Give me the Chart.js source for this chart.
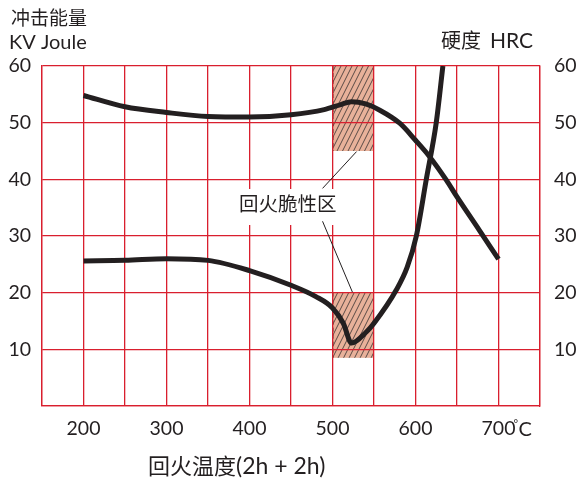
<!DOCTYPE html>
<html>
<head>
<meta charset="utf-8">
<script src="https://cdn.jsdelivr.net/npm/chart.js@4.4.0/dist/chart.umd.min.js"></script>
<style>
  html, body { margin: 0; padding: 0; background: #fff; }
  #c { display: block; }
</style>
</head>
<body>
<canvas id="c" width="579" height="479"></canvas>
<script>
/* Tempering curve: impact energy (KV) and hardness (HRC) vs tempering temperature */

const impactTemp = [200, 250, 300, 350, 400, 450, 480, 500, 513, 523, 541, 550, 577, 590, 601, 613, 625, 633];
const impactKV   = [25.6, 25.7, 26.0, 25.7, 23.9, 21.3, 19.3, 17.3, 14.6, 11.1, 13.1, 14.6, 20.5, 24.5, 30.0, 40.0, 50.0, 60.0];

const hardTemp = [200, 250, 300, 350, 400, 450, 490, 510, 523, 540, 557, 581, 600, 617, 637, 650, 677, 700];
const hardHRC  = [54.8, 52.8, 51.8, 51.1, 51.0, 51.4, 52.3, 53.2, 53.7, 53.3, 52.2, 49.9, 46.9, 44.0, 39.9, 36.9, 31.0, 25.9];

// temper-brittleness zones: [fromTemp, toTemp, low, high]
const brittleZones = [[500, 550, 45, 60], [500, 550, 8.5, 20]];
const calloutUpper = [[488, 38.4], [529, 44.9]];
const calloutLower = [[488, 32.6], [524, 20.1]];

const yTicks = [10, 20, 30, 40, 50, 60];
const xLabels = [200, 300, 400, 500, 600, 700];

const RED = "#d91f2e";
const INK = "#231f20";
const LATIN = "Lato, 'Open Sans', sans-serif";
const CJK = "'Noto Sans CJK SC', sans-serif";

function pts(xs, ys) { return xs.map((x, i) => ({ x, y: ys[i] })); }

function hatchPattern(ctx) {
  const w = 5.5, h = 11;
  const c = document.createElement("canvas");
  c.width = 11; c.height = 22;
  const g = c.getContext("2d");
  g.fillStyle = "#e8b19a";
  g.fillRect(0, 0, c.width, c.height);
  g.strokeStyle = "#5a4b46";
  g.lineWidth = 1;
  for (let off = -2 * w; off <= 2 * w; off += w) {
    g.beginPath();
    g.moveTo(off, c.height);
    g.lineTo(off + c.width, 0);
    g.stroke();
  }
  return ctx.createPattern(c, "repeat");
}

const zonesPlugin = {
  id: "zones",
  beforeDraw(chart) {
    const { ctx, scales: { x, y } } = chart;
    const pat = hatchPattern(ctx);
    ctx.save();
    for (const [t0, t1, lo, hi] of brittleZones) {
      const l = x.getPixelForValue(t0), r = x.getPixelForValue(t1);
      const top = y.getPixelForValue(hi), bot = y.getPixelForValue(lo);
      ctx.fillStyle = pat;
      ctx.fillRect(l, top, r - l, bot - top);
      ctx.strokeStyle = "#4a3c38";
      ctx.lineWidth = 1;
      ctx.setLineDash([4, 3]);
      ctx.beginPath();
      ctx.moveTo(l + 0.5, top); ctx.lineTo(l + 0.5, bot);
      ctx.moveTo(r - 0.5, top); ctx.lineTo(r - 0.5, bot);
      ctx.stroke();
    }
    ctx.restore();
  },
  beforeDatasetsDraw(chart) {
    const { ctx } = chart;
    ctx.save();
    ctx.fillStyle = "#fff";
    ctx.fillRect(214, 189, 131, 36);
    ctx.fillStyle = INK;
    ctx.font = "19.5px " + CJK;
    ctx.textBaseline = "middle";
    ctx.fillText("回火脆性区", 239, 204);
    ctx.restore();
  },
  afterDraw(chart) {
    const { ctx, scales: { x } } = chart;
    ctx.save();
    ctx.fillStyle = INK;
    ctx.textBaseline = "alphabetic";
    ctx.font = "19px " + CJK;
    ctx.fillText("冲击能量", 11, 25);
    ctx.font = "20px " + LATIN;
    ctx.fillText("KV Joule", 9, 49);
    ctx.font = "20px " + CJK;
    ctx.fillText("硬度", 441, 48);
    ctx.font = "21px " + LATIN;
    ctx.fillText("HRC", 490, 48);
    // unit after the 700 tick
    const px = x.getPixelForValue(700);
    ctx.font = "11px " + LATIN;
    ctx.fillText("°", px + 15, 428);
    ctx.font = "20px " + LATIN;
    ctx.fillText("C", px + 20, 436);
    // axis title
    ctx.font = "22px " + CJK;
    ctx.textBaseline = "middle";
    ctx.fillText("回火温度", 148, 466);
    ctx.font = "23px " + LATIN;
    ctx.fillText("(2h + 2h)", 236, 467);
    ctx.restore();
  }
};

const curve = { borderColor: INK, borderWidth: 5, pointRadius: 0, cubicInterpolationMode: "monotone", fill: false };
const thin = { borderColor: INK, borderWidth: 1, pointRadius: 0, tension: 0, fill: false };

new Chart(document.getElementById("c"), {
  type: "line",
  data: {
    datasets: [
      { label: "KV", data: pts(impactTemp, impactKV), ...curve },
      { label: "HRC", data: pts(hardTemp, hardHRC), ...curve },
      { label: "c1", data: calloutUpper.map(([x, y]) => ({ x, y })), ...thin },
      { label: "c2", data: calloutLower.map(([x, y]) => ({ x, y })), ...thin },
    ],
  },
  options: {
    responsive: false,
    animation: false,
    events: [],
    layout: { padding: { top: 66, left: 0, right: 0, bottom: 0 } },
    plugins: { legend: { display: false }, tooltip: { enabled: false } },
    scales: {
      x: {
        type: "linear", min: 150, max: 750,
        afterFit: (s) => { s.height = 73; },
        grid: { color: RED, lineWidth: 1.3, drawTicks: false },
        border: { color: RED, width: 1.3 },
        ticks: {
          stepSize: 50, padding: 11, color: INK, maxRotation: 0, autoSkip: false,
          font: { family: LATIN, size: 19.5 },
          callback: (v) => (xLabels.includes(v) ? String(v) : ""),
        },
      },
      y: {
        position: "left", min: 0, max: 60,
        afterFit: (s) => { s.width = 42; },
        grid: { color: RED, lineWidth: 1.3, drawTicks: false },
        border: { color: RED, width: 1.3 },
        ticks: {
          stepSize: 10, padding: 11, color: INK,
          font: { family: LATIN, size: 19.5 },
          callback: (v) => (yTicks.includes(v) ? String(v) : ""),
        },
      },
      y2: {
        position: "right", min: 0, max: 60,
        afterFit: (s) => { s.width = 39; },
        grid: { display: false, drawTicks: false },
        border: { color: RED, width: 1.3 },
        ticks: {
          stepSize: 10, padding: 14, color: INK,
          font: { family: LATIN, size: 19.5 },
          callback: (v) => (yTicks.includes(v) ? String(v) : ""),
        },
      },
    },
  },
  plugins: [zonesPlugin],
});
</script>
</body>
</html>
